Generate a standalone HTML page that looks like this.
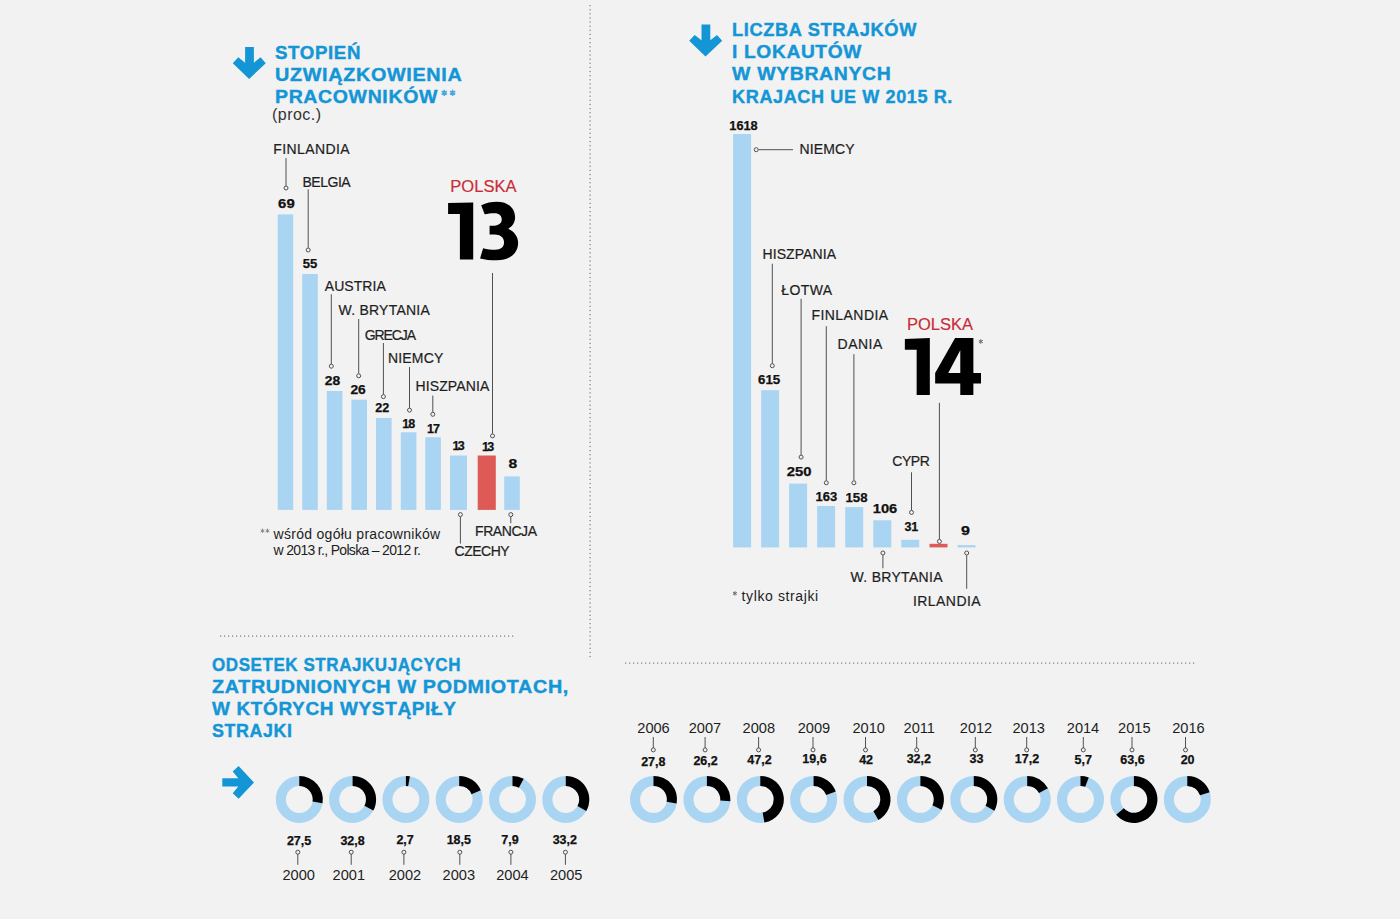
<!DOCTYPE html>
<html><head><meta charset="utf-8"><style>
html,body{margin:0;padding:0;background:#f2f2f2;width:1400px;height:919px;overflow:hidden}
svg{display:block;font-family:"Liberation Sans",sans-serif}
</style></head><body>
<svg width="1400" height="919" viewBox="0 0 1400 919">
<rect width="1400" height="919" fill="#f2f2f2"/>
<rect x="589.5" y="5.0" width="1.2" height="1.2" fill="#7a7a7a"/>
<rect x="589.5" y="9.12" width="1.2" height="1.2" fill="#7a7a7a"/>
<rect x="589.5" y="13.24" width="1.2" height="1.2" fill="#7a7a7a"/>
<rect x="589.5" y="17.36" width="1.2" height="1.2" fill="#7a7a7a"/>
<rect x="589.5" y="21.48" width="1.2" height="1.2" fill="#7a7a7a"/>
<rect x="589.5" y="25.6" width="1.2" height="1.2" fill="#7a7a7a"/>
<rect x="589.5" y="29.72" width="1.2" height="1.2" fill="#7a7a7a"/>
<rect x="589.5" y="33.84" width="1.2" height="1.2" fill="#7a7a7a"/>
<rect x="589.5" y="37.96" width="1.2" height="1.2" fill="#7a7a7a"/>
<rect x="589.5" y="42.08" width="1.2" height="1.2" fill="#7a7a7a"/>
<rect x="589.5" y="46.2" width="1.2" height="1.2" fill="#7a7a7a"/>
<rect x="589.5" y="50.32" width="1.2" height="1.2" fill="#7a7a7a"/>
<rect x="589.5" y="54.44" width="1.2" height="1.2" fill="#7a7a7a"/>
<rect x="589.5" y="58.56" width="1.2" height="1.2" fill="#7a7a7a"/>
<rect x="589.5" y="62.68" width="1.2" height="1.2" fill="#7a7a7a"/>
<rect x="589.5" y="66.8" width="1.2" height="1.2" fill="#7a7a7a"/>
<rect x="589.5" y="70.92" width="1.2" height="1.2" fill="#7a7a7a"/>
<rect x="589.5" y="75.04" width="1.2" height="1.2" fill="#7a7a7a"/>
<rect x="589.5" y="79.16" width="1.2" height="1.2" fill="#7a7a7a"/>
<rect x="589.5" y="83.28" width="1.2" height="1.2" fill="#7a7a7a"/>
<rect x="589.5" y="87.4" width="1.2" height="1.2" fill="#7a7a7a"/>
<rect x="589.5" y="91.52" width="1.2" height="1.2" fill="#7a7a7a"/>
<rect x="589.5" y="95.64" width="1.2" height="1.2" fill="#7a7a7a"/>
<rect x="589.5" y="99.76" width="1.2" height="1.2" fill="#7a7a7a"/>
<rect x="589.5" y="103.88" width="1.2" height="1.2" fill="#7a7a7a"/>
<rect x="589.5" y="108.0" width="1.2" height="1.2" fill="#7a7a7a"/>
<rect x="589.5" y="112.12" width="1.2" height="1.2" fill="#7a7a7a"/>
<rect x="589.5" y="116.24" width="1.2" height="1.2" fill="#7a7a7a"/>
<rect x="589.5" y="120.36" width="1.2" height="1.2" fill="#7a7a7a"/>
<rect x="589.5" y="124.48" width="1.2" height="1.2" fill="#7a7a7a"/>
<rect x="589.5" y="128.6" width="1.2" height="1.2" fill="#7a7a7a"/>
<rect x="589.5" y="132.72" width="1.2" height="1.2" fill="#7a7a7a"/>
<rect x="589.5" y="136.84" width="1.2" height="1.2" fill="#7a7a7a"/>
<rect x="589.5" y="140.96" width="1.2" height="1.2" fill="#7a7a7a"/>
<rect x="589.5" y="145.08" width="1.2" height="1.2" fill="#7a7a7a"/>
<rect x="589.5" y="149.2" width="1.2" height="1.2" fill="#7a7a7a"/>
<rect x="589.5" y="153.32" width="1.2" height="1.2" fill="#7a7a7a"/>
<rect x="589.5" y="157.44" width="1.2" height="1.2" fill="#7a7a7a"/>
<rect x="589.5" y="161.56" width="1.2" height="1.2" fill="#7a7a7a"/>
<rect x="589.5" y="165.68" width="1.2" height="1.2" fill="#7a7a7a"/>
<rect x="589.5" y="169.8" width="1.2" height="1.2" fill="#7a7a7a"/>
<rect x="589.5" y="173.92" width="1.2" height="1.2" fill="#7a7a7a"/>
<rect x="589.5" y="178.04" width="1.2" height="1.2" fill="#7a7a7a"/>
<rect x="589.5" y="182.16" width="1.2" height="1.2" fill="#7a7a7a"/>
<rect x="589.5" y="186.28" width="1.2" height="1.2" fill="#7a7a7a"/>
<rect x="589.5" y="190.4" width="1.2" height="1.2" fill="#7a7a7a"/>
<rect x="589.5" y="194.52" width="1.2" height="1.2" fill="#7a7a7a"/>
<rect x="589.5" y="198.64" width="1.2" height="1.2" fill="#7a7a7a"/>
<rect x="589.5" y="202.76" width="1.2" height="1.2" fill="#7a7a7a"/>
<rect x="589.5" y="206.88" width="1.2" height="1.2" fill="#7a7a7a"/>
<rect x="589.5" y="211.0" width="1.2" height="1.2" fill="#7a7a7a"/>
<rect x="589.5" y="215.12" width="1.2" height="1.2" fill="#7a7a7a"/>
<rect x="589.5" y="219.24" width="1.2" height="1.2" fill="#7a7a7a"/>
<rect x="589.5" y="223.36" width="1.2" height="1.2" fill="#7a7a7a"/>
<rect x="589.5" y="227.48" width="1.2" height="1.2" fill="#7a7a7a"/>
<rect x="589.5" y="231.6" width="1.2" height="1.2" fill="#7a7a7a"/>
<rect x="589.5" y="235.72" width="1.2" height="1.2" fill="#7a7a7a"/>
<rect x="589.5" y="239.84" width="1.2" height="1.2" fill="#7a7a7a"/>
<rect x="589.5" y="243.96" width="1.2" height="1.2" fill="#7a7a7a"/>
<rect x="589.5" y="248.08" width="1.2" height="1.2" fill="#7a7a7a"/>
<rect x="589.5" y="252.2" width="1.2" height="1.2" fill="#7a7a7a"/>
<rect x="589.5" y="256.32" width="1.2" height="1.2" fill="#7a7a7a"/>
<rect x="589.5" y="260.44" width="1.2" height="1.2" fill="#7a7a7a"/>
<rect x="589.5" y="264.56" width="1.2" height="1.2" fill="#7a7a7a"/>
<rect x="589.5" y="268.68" width="1.2" height="1.2" fill="#7a7a7a"/>
<rect x="589.5" y="272.8" width="1.2" height="1.2" fill="#7a7a7a"/>
<rect x="589.5" y="276.92" width="1.2" height="1.2" fill="#7a7a7a"/>
<rect x="589.5" y="281.04" width="1.2" height="1.2" fill="#7a7a7a"/>
<rect x="589.5" y="285.16" width="1.2" height="1.2" fill="#7a7a7a"/>
<rect x="589.5" y="289.28" width="1.2" height="1.2" fill="#7a7a7a"/>
<rect x="589.5" y="293.4" width="1.2" height="1.2" fill="#7a7a7a"/>
<rect x="589.5" y="297.52" width="1.2" height="1.2" fill="#7a7a7a"/>
<rect x="589.5" y="301.64" width="1.2" height="1.2" fill="#7a7a7a"/>
<rect x="589.5" y="305.76" width="1.2" height="1.2" fill="#7a7a7a"/>
<rect x="589.5" y="309.88" width="1.2" height="1.2" fill="#7a7a7a"/>
<rect x="589.5" y="314.0" width="1.2" height="1.2" fill="#7a7a7a"/>
<rect x="589.5" y="318.12" width="1.2" height="1.2" fill="#7a7a7a"/>
<rect x="589.5" y="322.24" width="1.2" height="1.2" fill="#7a7a7a"/>
<rect x="589.5" y="326.36" width="1.2" height="1.2" fill="#7a7a7a"/>
<rect x="589.5" y="330.48" width="1.2" height="1.2" fill="#7a7a7a"/>
<rect x="589.5" y="334.6" width="1.2" height="1.2" fill="#7a7a7a"/>
<rect x="589.5" y="338.72" width="1.2" height="1.2" fill="#7a7a7a"/>
<rect x="589.5" y="342.84" width="1.2" height="1.2" fill="#7a7a7a"/>
<rect x="589.5" y="346.96" width="1.2" height="1.2" fill="#7a7a7a"/>
<rect x="589.5" y="351.08" width="1.2" height="1.2" fill="#7a7a7a"/>
<rect x="589.5" y="355.2" width="1.2" height="1.2" fill="#7a7a7a"/>
<rect x="589.5" y="359.32" width="1.2" height="1.2" fill="#7a7a7a"/>
<rect x="589.5" y="363.44" width="1.2" height="1.2" fill="#7a7a7a"/>
<rect x="589.5" y="367.56" width="1.2" height="1.2" fill="#7a7a7a"/>
<rect x="589.5" y="371.68" width="1.2" height="1.2" fill="#7a7a7a"/>
<rect x="589.5" y="375.8" width="1.2" height="1.2" fill="#7a7a7a"/>
<rect x="589.5" y="379.92" width="1.2" height="1.2" fill="#7a7a7a"/>
<rect x="589.5" y="384.04" width="1.2" height="1.2" fill="#7a7a7a"/>
<rect x="589.5" y="388.16" width="1.2" height="1.2" fill="#7a7a7a"/>
<rect x="589.5" y="392.28" width="1.2" height="1.2" fill="#7a7a7a"/>
<rect x="589.5" y="396.4" width="1.2" height="1.2" fill="#7a7a7a"/>
<rect x="589.5" y="400.52" width="1.2" height="1.2" fill="#7a7a7a"/>
<rect x="589.5" y="404.64" width="1.2" height="1.2" fill="#7a7a7a"/>
<rect x="589.5" y="408.76" width="1.2" height="1.2" fill="#7a7a7a"/>
<rect x="589.5" y="412.88" width="1.2" height="1.2" fill="#7a7a7a"/>
<rect x="589.5" y="417.0" width="1.2" height="1.2" fill="#7a7a7a"/>
<rect x="589.5" y="421.12" width="1.2" height="1.2" fill="#7a7a7a"/>
<rect x="589.5" y="425.24" width="1.2" height="1.2" fill="#7a7a7a"/>
<rect x="589.5" y="429.36" width="1.2" height="1.2" fill="#7a7a7a"/>
<rect x="589.5" y="433.48" width="1.2" height="1.2" fill="#7a7a7a"/>
<rect x="589.5" y="437.6" width="1.2" height="1.2" fill="#7a7a7a"/>
<rect x="589.5" y="441.72" width="1.2" height="1.2" fill="#7a7a7a"/>
<rect x="589.5" y="445.84" width="1.2" height="1.2" fill="#7a7a7a"/>
<rect x="589.5" y="449.96" width="1.2" height="1.2" fill="#7a7a7a"/>
<rect x="589.5" y="454.08" width="1.2" height="1.2" fill="#7a7a7a"/>
<rect x="589.5" y="458.2" width="1.2" height="1.2" fill="#7a7a7a"/>
<rect x="589.5" y="462.32" width="1.2" height="1.2" fill="#7a7a7a"/>
<rect x="589.5" y="466.44" width="1.2" height="1.2" fill="#7a7a7a"/>
<rect x="589.5" y="470.56" width="1.2" height="1.2" fill="#7a7a7a"/>
<rect x="589.5" y="474.68" width="1.2" height="1.2" fill="#7a7a7a"/>
<rect x="589.5" y="478.8" width="1.2" height="1.2" fill="#7a7a7a"/>
<rect x="589.5" y="482.92" width="1.2" height="1.2" fill="#7a7a7a"/>
<rect x="589.5" y="487.04" width="1.2" height="1.2" fill="#7a7a7a"/>
<rect x="589.5" y="491.16" width="1.2" height="1.2" fill="#7a7a7a"/>
<rect x="589.5" y="495.28" width="1.2" height="1.2" fill="#7a7a7a"/>
<rect x="589.5" y="499.4" width="1.2" height="1.2" fill="#7a7a7a"/>
<rect x="589.5" y="503.52" width="1.2" height="1.2" fill="#7a7a7a"/>
<rect x="589.5" y="507.64" width="1.2" height="1.2" fill="#7a7a7a"/>
<rect x="589.5" y="511.76" width="1.2" height="1.2" fill="#7a7a7a"/>
<rect x="589.5" y="515.88" width="1.2" height="1.2" fill="#7a7a7a"/>
<rect x="589.5" y="520.0" width="1.2" height="1.2" fill="#7a7a7a"/>
<rect x="589.5" y="524.12" width="1.2" height="1.2" fill="#7a7a7a"/>
<rect x="589.5" y="528.24" width="1.2" height="1.2" fill="#7a7a7a"/>
<rect x="589.5" y="532.36" width="1.2" height="1.2" fill="#7a7a7a"/>
<rect x="589.5" y="536.48" width="1.2" height="1.2" fill="#7a7a7a"/>
<rect x="589.5" y="540.6" width="1.2" height="1.2" fill="#7a7a7a"/>
<rect x="589.5" y="544.72" width="1.2" height="1.2" fill="#7a7a7a"/>
<rect x="589.5" y="548.84" width="1.2" height="1.2" fill="#7a7a7a"/>
<rect x="589.5" y="552.96" width="1.2" height="1.2" fill="#7a7a7a"/>
<rect x="589.5" y="557.08" width="1.2" height="1.2" fill="#7a7a7a"/>
<rect x="589.5" y="561.2" width="1.2" height="1.2" fill="#7a7a7a"/>
<rect x="589.5" y="565.32" width="1.2" height="1.2" fill="#7a7a7a"/>
<rect x="589.5" y="569.44" width="1.2" height="1.2" fill="#7a7a7a"/>
<rect x="589.5" y="573.56" width="1.2" height="1.2" fill="#7a7a7a"/>
<rect x="589.5" y="577.68" width="1.2" height="1.2" fill="#7a7a7a"/>
<rect x="589.5" y="581.8" width="1.2" height="1.2" fill="#7a7a7a"/>
<rect x="589.5" y="585.92" width="1.2" height="1.2" fill="#7a7a7a"/>
<rect x="589.5" y="590.04" width="1.2" height="1.2" fill="#7a7a7a"/>
<rect x="589.5" y="594.16" width="1.2" height="1.2" fill="#7a7a7a"/>
<rect x="589.5" y="598.28" width="1.2" height="1.2" fill="#7a7a7a"/>
<rect x="589.5" y="602.4" width="1.2" height="1.2" fill="#7a7a7a"/>
<rect x="589.5" y="606.52" width="1.2" height="1.2" fill="#7a7a7a"/>
<rect x="589.5" y="610.64" width="1.2" height="1.2" fill="#7a7a7a"/>
<rect x="589.5" y="614.76" width="1.2" height="1.2" fill="#7a7a7a"/>
<rect x="589.5" y="618.88" width="1.2" height="1.2" fill="#7a7a7a"/>
<rect x="589.5" y="623.0" width="1.2" height="1.2" fill="#7a7a7a"/>
<rect x="589.5" y="627.12" width="1.2" height="1.2" fill="#7a7a7a"/>
<rect x="589.5" y="631.24" width="1.2" height="1.2" fill="#7a7a7a"/>
<rect x="589.5" y="635.36" width="1.2" height="1.2" fill="#7a7a7a"/>
<rect x="589.5" y="639.48" width="1.2" height="1.2" fill="#7a7a7a"/>
<rect x="589.5" y="643.6" width="1.2" height="1.2" fill="#7a7a7a"/>
<rect x="589.5" y="647.72" width="1.2" height="1.2" fill="#7a7a7a"/>
<rect x="589.5" y="651.84" width="1.2" height="1.2" fill="#7a7a7a"/>
<rect x="589.5" y="655.96" width="1.2" height="1.2" fill="#7a7a7a"/>
<rect x="220" y="635.5" width="1.2" height="1.2" fill="#7a7a7a"/>
<rect x="224" y="635.5" width="1.2" height="1.2" fill="#7a7a7a"/>
<rect x="228" y="635.5" width="1.2" height="1.2" fill="#7a7a7a"/>
<rect x="232" y="635.5" width="1.2" height="1.2" fill="#7a7a7a"/>
<rect x="236" y="635.5" width="1.2" height="1.2" fill="#7a7a7a"/>
<rect x="240" y="635.5" width="1.2" height="1.2" fill="#7a7a7a"/>
<rect x="244" y="635.5" width="1.2" height="1.2" fill="#7a7a7a"/>
<rect x="248" y="635.5" width="1.2" height="1.2" fill="#7a7a7a"/>
<rect x="252" y="635.5" width="1.2" height="1.2" fill="#7a7a7a"/>
<rect x="256" y="635.5" width="1.2" height="1.2" fill="#7a7a7a"/>
<rect x="260" y="635.5" width="1.2" height="1.2" fill="#7a7a7a"/>
<rect x="264" y="635.5" width="1.2" height="1.2" fill="#7a7a7a"/>
<rect x="268" y="635.5" width="1.2" height="1.2" fill="#7a7a7a"/>
<rect x="272" y="635.5" width="1.2" height="1.2" fill="#7a7a7a"/>
<rect x="276" y="635.5" width="1.2" height="1.2" fill="#7a7a7a"/>
<rect x="280" y="635.5" width="1.2" height="1.2" fill="#7a7a7a"/>
<rect x="284" y="635.5" width="1.2" height="1.2" fill="#7a7a7a"/>
<rect x="288" y="635.5" width="1.2" height="1.2" fill="#7a7a7a"/>
<rect x="292" y="635.5" width="1.2" height="1.2" fill="#7a7a7a"/>
<rect x="296" y="635.5" width="1.2" height="1.2" fill="#7a7a7a"/>
<rect x="300" y="635.5" width="1.2" height="1.2" fill="#7a7a7a"/>
<rect x="304" y="635.5" width="1.2" height="1.2" fill="#7a7a7a"/>
<rect x="308" y="635.5" width="1.2" height="1.2" fill="#7a7a7a"/>
<rect x="312" y="635.5" width="1.2" height="1.2" fill="#7a7a7a"/>
<rect x="316" y="635.5" width="1.2" height="1.2" fill="#7a7a7a"/>
<rect x="320" y="635.5" width="1.2" height="1.2" fill="#7a7a7a"/>
<rect x="324" y="635.5" width="1.2" height="1.2" fill="#7a7a7a"/>
<rect x="328" y="635.5" width="1.2" height="1.2" fill="#7a7a7a"/>
<rect x="332" y="635.5" width="1.2" height="1.2" fill="#7a7a7a"/>
<rect x="336" y="635.5" width="1.2" height="1.2" fill="#7a7a7a"/>
<rect x="340" y="635.5" width="1.2" height="1.2" fill="#7a7a7a"/>
<rect x="344" y="635.5" width="1.2" height="1.2" fill="#7a7a7a"/>
<rect x="348" y="635.5" width="1.2" height="1.2" fill="#7a7a7a"/>
<rect x="352" y="635.5" width="1.2" height="1.2" fill="#7a7a7a"/>
<rect x="356" y="635.5" width="1.2" height="1.2" fill="#7a7a7a"/>
<rect x="360" y="635.5" width="1.2" height="1.2" fill="#7a7a7a"/>
<rect x="364" y="635.5" width="1.2" height="1.2" fill="#7a7a7a"/>
<rect x="368" y="635.5" width="1.2" height="1.2" fill="#7a7a7a"/>
<rect x="372" y="635.5" width="1.2" height="1.2" fill="#7a7a7a"/>
<rect x="376" y="635.5" width="1.2" height="1.2" fill="#7a7a7a"/>
<rect x="380" y="635.5" width="1.2" height="1.2" fill="#7a7a7a"/>
<rect x="384" y="635.5" width="1.2" height="1.2" fill="#7a7a7a"/>
<rect x="388" y="635.5" width="1.2" height="1.2" fill="#7a7a7a"/>
<rect x="392" y="635.5" width="1.2" height="1.2" fill="#7a7a7a"/>
<rect x="396" y="635.5" width="1.2" height="1.2" fill="#7a7a7a"/>
<rect x="400" y="635.5" width="1.2" height="1.2" fill="#7a7a7a"/>
<rect x="404" y="635.5" width="1.2" height="1.2" fill="#7a7a7a"/>
<rect x="408" y="635.5" width="1.2" height="1.2" fill="#7a7a7a"/>
<rect x="412" y="635.5" width="1.2" height="1.2" fill="#7a7a7a"/>
<rect x="416" y="635.5" width="1.2" height="1.2" fill="#7a7a7a"/>
<rect x="420" y="635.5" width="1.2" height="1.2" fill="#7a7a7a"/>
<rect x="424" y="635.5" width="1.2" height="1.2" fill="#7a7a7a"/>
<rect x="428" y="635.5" width="1.2" height="1.2" fill="#7a7a7a"/>
<rect x="432" y="635.5" width="1.2" height="1.2" fill="#7a7a7a"/>
<rect x="436" y="635.5" width="1.2" height="1.2" fill="#7a7a7a"/>
<rect x="440" y="635.5" width="1.2" height="1.2" fill="#7a7a7a"/>
<rect x="444" y="635.5" width="1.2" height="1.2" fill="#7a7a7a"/>
<rect x="448" y="635.5" width="1.2" height="1.2" fill="#7a7a7a"/>
<rect x="452" y="635.5" width="1.2" height="1.2" fill="#7a7a7a"/>
<rect x="456" y="635.5" width="1.2" height="1.2" fill="#7a7a7a"/>
<rect x="460" y="635.5" width="1.2" height="1.2" fill="#7a7a7a"/>
<rect x="464" y="635.5" width="1.2" height="1.2" fill="#7a7a7a"/>
<rect x="468" y="635.5" width="1.2" height="1.2" fill="#7a7a7a"/>
<rect x="472" y="635.5" width="1.2" height="1.2" fill="#7a7a7a"/>
<rect x="476" y="635.5" width="1.2" height="1.2" fill="#7a7a7a"/>
<rect x="480" y="635.5" width="1.2" height="1.2" fill="#7a7a7a"/>
<rect x="484" y="635.5" width="1.2" height="1.2" fill="#7a7a7a"/>
<rect x="488" y="635.5" width="1.2" height="1.2" fill="#7a7a7a"/>
<rect x="492" y="635.5" width="1.2" height="1.2" fill="#7a7a7a"/>
<rect x="496" y="635.5" width="1.2" height="1.2" fill="#7a7a7a"/>
<rect x="500" y="635.5" width="1.2" height="1.2" fill="#7a7a7a"/>
<rect x="504" y="635.5" width="1.2" height="1.2" fill="#7a7a7a"/>
<rect x="508" y="635.5" width="1.2" height="1.2" fill="#7a7a7a"/>
<rect x="512" y="635.5" width="1.2" height="1.2" fill="#7a7a7a"/>
<rect x="625" y="662.5" width="1.2" height="1.2" fill="#7a7a7a"/>
<rect x="629" y="662.5" width="1.2" height="1.2" fill="#7a7a7a"/>
<rect x="633" y="662.5" width="1.2" height="1.2" fill="#7a7a7a"/>
<rect x="637" y="662.5" width="1.2" height="1.2" fill="#7a7a7a"/>
<rect x="641" y="662.5" width="1.2" height="1.2" fill="#7a7a7a"/>
<rect x="645" y="662.5" width="1.2" height="1.2" fill="#7a7a7a"/>
<rect x="649" y="662.5" width="1.2" height="1.2" fill="#7a7a7a"/>
<rect x="653" y="662.5" width="1.2" height="1.2" fill="#7a7a7a"/>
<rect x="657" y="662.5" width="1.2" height="1.2" fill="#7a7a7a"/>
<rect x="661" y="662.5" width="1.2" height="1.2" fill="#7a7a7a"/>
<rect x="665" y="662.5" width="1.2" height="1.2" fill="#7a7a7a"/>
<rect x="669" y="662.5" width="1.2" height="1.2" fill="#7a7a7a"/>
<rect x="673" y="662.5" width="1.2" height="1.2" fill="#7a7a7a"/>
<rect x="677" y="662.5" width="1.2" height="1.2" fill="#7a7a7a"/>
<rect x="681" y="662.5" width="1.2" height="1.2" fill="#7a7a7a"/>
<rect x="685" y="662.5" width="1.2" height="1.2" fill="#7a7a7a"/>
<rect x="689" y="662.5" width="1.2" height="1.2" fill="#7a7a7a"/>
<rect x="693" y="662.5" width="1.2" height="1.2" fill="#7a7a7a"/>
<rect x="697" y="662.5" width="1.2" height="1.2" fill="#7a7a7a"/>
<rect x="701" y="662.5" width="1.2" height="1.2" fill="#7a7a7a"/>
<rect x="705" y="662.5" width="1.2" height="1.2" fill="#7a7a7a"/>
<rect x="709" y="662.5" width="1.2" height="1.2" fill="#7a7a7a"/>
<rect x="713" y="662.5" width="1.2" height="1.2" fill="#7a7a7a"/>
<rect x="717" y="662.5" width="1.2" height="1.2" fill="#7a7a7a"/>
<rect x="721" y="662.5" width="1.2" height="1.2" fill="#7a7a7a"/>
<rect x="725" y="662.5" width="1.2" height="1.2" fill="#7a7a7a"/>
<rect x="729" y="662.5" width="1.2" height="1.2" fill="#7a7a7a"/>
<rect x="733" y="662.5" width="1.2" height="1.2" fill="#7a7a7a"/>
<rect x="737" y="662.5" width="1.2" height="1.2" fill="#7a7a7a"/>
<rect x="741" y="662.5" width="1.2" height="1.2" fill="#7a7a7a"/>
<rect x="745" y="662.5" width="1.2" height="1.2" fill="#7a7a7a"/>
<rect x="749" y="662.5" width="1.2" height="1.2" fill="#7a7a7a"/>
<rect x="753" y="662.5" width="1.2" height="1.2" fill="#7a7a7a"/>
<rect x="757" y="662.5" width="1.2" height="1.2" fill="#7a7a7a"/>
<rect x="761" y="662.5" width="1.2" height="1.2" fill="#7a7a7a"/>
<rect x="765" y="662.5" width="1.2" height="1.2" fill="#7a7a7a"/>
<rect x="769" y="662.5" width="1.2" height="1.2" fill="#7a7a7a"/>
<rect x="773" y="662.5" width="1.2" height="1.2" fill="#7a7a7a"/>
<rect x="777" y="662.5" width="1.2" height="1.2" fill="#7a7a7a"/>
<rect x="781" y="662.5" width="1.2" height="1.2" fill="#7a7a7a"/>
<rect x="785" y="662.5" width="1.2" height="1.2" fill="#7a7a7a"/>
<rect x="789" y="662.5" width="1.2" height="1.2" fill="#7a7a7a"/>
<rect x="793" y="662.5" width="1.2" height="1.2" fill="#7a7a7a"/>
<rect x="797" y="662.5" width="1.2" height="1.2" fill="#7a7a7a"/>
<rect x="801" y="662.5" width="1.2" height="1.2" fill="#7a7a7a"/>
<rect x="805" y="662.5" width="1.2" height="1.2" fill="#7a7a7a"/>
<rect x="809" y="662.5" width="1.2" height="1.2" fill="#7a7a7a"/>
<rect x="813" y="662.5" width="1.2" height="1.2" fill="#7a7a7a"/>
<rect x="817" y="662.5" width="1.2" height="1.2" fill="#7a7a7a"/>
<rect x="821" y="662.5" width="1.2" height="1.2" fill="#7a7a7a"/>
<rect x="825" y="662.5" width="1.2" height="1.2" fill="#7a7a7a"/>
<rect x="829" y="662.5" width="1.2" height="1.2" fill="#7a7a7a"/>
<rect x="833" y="662.5" width="1.2" height="1.2" fill="#7a7a7a"/>
<rect x="837" y="662.5" width="1.2" height="1.2" fill="#7a7a7a"/>
<rect x="841" y="662.5" width="1.2" height="1.2" fill="#7a7a7a"/>
<rect x="845" y="662.5" width="1.2" height="1.2" fill="#7a7a7a"/>
<rect x="849" y="662.5" width="1.2" height="1.2" fill="#7a7a7a"/>
<rect x="853" y="662.5" width="1.2" height="1.2" fill="#7a7a7a"/>
<rect x="857" y="662.5" width="1.2" height="1.2" fill="#7a7a7a"/>
<rect x="861" y="662.5" width="1.2" height="1.2" fill="#7a7a7a"/>
<rect x="865" y="662.5" width="1.2" height="1.2" fill="#7a7a7a"/>
<rect x="869" y="662.5" width="1.2" height="1.2" fill="#7a7a7a"/>
<rect x="873" y="662.5" width="1.2" height="1.2" fill="#7a7a7a"/>
<rect x="877" y="662.5" width="1.2" height="1.2" fill="#7a7a7a"/>
<rect x="881" y="662.5" width="1.2" height="1.2" fill="#7a7a7a"/>
<rect x="885" y="662.5" width="1.2" height="1.2" fill="#7a7a7a"/>
<rect x="889" y="662.5" width="1.2" height="1.2" fill="#7a7a7a"/>
<rect x="893" y="662.5" width="1.2" height="1.2" fill="#7a7a7a"/>
<rect x="897" y="662.5" width="1.2" height="1.2" fill="#7a7a7a"/>
<rect x="901" y="662.5" width="1.2" height="1.2" fill="#7a7a7a"/>
<rect x="905" y="662.5" width="1.2" height="1.2" fill="#7a7a7a"/>
<rect x="909" y="662.5" width="1.2" height="1.2" fill="#7a7a7a"/>
<rect x="913" y="662.5" width="1.2" height="1.2" fill="#7a7a7a"/>
<rect x="917" y="662.5" width="1.2" height="1.2" fill="#7a7a7a"/>
<rect x="921" y="662.5" width="1.2" height="1.2" fill="#7a7a7a"/>
<rect x="925" y="662.5" width="1.2" height="1.2" fill="#7a7a7a"/>
<rect x="929" y="662.5" width="1.2" height="1.2" fill="#7a7a7a"/>
<rect x="933" y="662.5" width="1.2" height="1.2" fill="#7a7a7a"/>
<rect x="937" y="662.5" width="1.2" height="1.2" fill="#7a7a7a"/>
<rect x="941" y="662.5" width="1.2" height="1.2" fill="#7a7a7a"/>
<rect x="945" y="662.5" width="1.2" height="1.2" fill="#7a7a7a"/>
<rect x="949" y="662.5" width="1.2" height="1.2" fill="#7a7a7a"/>
<rect x="953" y="662.5" width="1.2" height="1.2" fill="#7a7a7a"/>
<rect x="957" y="662.5" width="1.2" height="1.2" fill="#7a7a7a"/>
<rect x="961" y="662.5" width="1.2" height="1.2" fill="#7a7a7a"/>
<rect x="965" y="662.5" width="1.2" height="1.2" fill="#7a7a7a"/>
<rect x="969" y="662.5" width="1.2" height="1.2" fill="#7a7a7a"/>
<rect x="973" y="662.5" width="1.2" height="1.2" fill="#7a7a7a"/>
<rect x="977" y="662.5" width="1.2" height="1.2" fill="#7a7a7a"/>
<rect x="981" y="662.5" width="1.2" height="1.2" fill="#7a7a7a"/>
<rect x="985" y="662.5" width="1.2" height="1.2" fill="#7a7a7a"/>
<rect x="989" y="662.5" width="1.2" height="1.2" fill="#7a7a7a"/>
<rect x="993" y="662.5" width="1.2" height="1.2" fill="#7a7a7a"/>
<rect x="997" y="662.5" width="1.2" height="1.2" fill="#7a7a7a"/>
<rect x="1001" y="662.5" width="1.2" height="1.2" fill="#7a7a7a"/>
<rect x="1005" y="662.5" width="1.2" height="1.2" fill="#7a7a7a"/>
<rect x="1009" y="662.5" width="1.2" height="1.2" fill="#7a7a7a"/>
<rect x="1013" y="662.5" width="1.2" height="1.2" fill="#7a7a7a"/>
<rect x="1017" y="662.5" width="1.2" height="1.2" fill="#7a7a7a"/>
<rect x="1021" y="662.5" width="1.2" height="1.2" fill="#7a7a7a"/>
<rect x="1025" y="662.5" width="1.2" height="1.2" fill="#7a7a7a"/>
<rect x="1029" y="662.5" width="1.2" height="1.2" fill="#7a7a7a"/>
<rect x="1033" y="662.5" width="1.2" height="1.2" fill="#7a7a7a"/>
<rect x="1037" y="662.5" width="1.2" height="1.2" fill="#7a7a7a"/>
<rect x="1041" y="662.5" width="1.2" height="1.2" fill="#7a7a7a"/>
<rect x="1045" y="662.5" width="1.2" height="1.2" fill="#7a7a7a"/>
<rect x="1049" y="662.5" width="1.2" height="1.2" fill="#7a7a7a"/>
<rect x="1053" y="662.5" width="1.2" height="1.2" fill="#7a7a7a"/>
<rect x="1057" y="662.5" width="1.2" height="1.2" fill="#7a7a7a"/>
<rect x="1061" y="662.5" width="1.2" height="1.2" fill="#7a7a7a"/>
<rect x="1065" y="662.5" width="1.2" height="1.2" fill="#7a7a7a"/>
<rect x="1069" y="662.5" width="1.2" height="1.2" fill="#7a7a7a"/>
<rect x="1073" y="662.5" width="1.2" height="1.2" fill="#7a7a7a"/>
<rect x="1077" y="662.5" width="1.2" height="1.2" fill="#7a7a7a"/>
<rect x="1081" y="662.5" width="1.2" height="1.2" fill="#7a7a7a"/>
<rect x="1085" y="662.5" width="1.2" height="1.2" fill="#7a7a7a"/>
<rect x="1089" y="662.5" width="1.2" height="1.2" fill="#7a7a7a"/>
<rect x="1093" y="662.5" width="1.2" height="1.2" fill="#7a7a7a"/>
<rect x="1097" y="662.5" width="1.2" height="1.2" fill="#7a7a7a"/>
<rect x="1101" y="662.5" width="1.2" height="1.2" fill="#7a7a7a"/>
<rect x="1105" y="662.5" width="1.2" height="1.2" fill="#7a7a7a"/>
<rect x="1109" y="662.5" width="1.2" height="1.2" fill="#7a7a7a"/>
<rect x="1113" y="662.5" width="1.2" height="1.2" fill="#7a7a7a"/>
<rect x="1117" y="662.5" width="1.2" height="1.2" fill="#7a7a7a"/>
<rect x="1121" y="662.5" width="1.2" height="1.2" fill="#7a7a7a"/>
<rect x="1125" y="662.5" width="1.2" height="1.2" fill="#7a7a7a"/>
<rect x="1129" y="662.5" width="1.2" height="1.2" fill="#7a7a7a"/>
<rect x="1133" y="662.5" width="1.2" height="1.2" fill="#7a7a7a"/>
<rect x="1137" y="662.5" width="1.2" height="1.2" fill="#7a7a7a"/>
<rect x="1141" y="662.5" width="1.2" height="1.2" fill="#7a7a7a"/>
<rect x="1145" y="662.5" width="1.2" height="1.2" fill="#7a7a7a"/>
<rect x="1149" y="662.5" width="1.2" height="1.2" fill="#7a7a7a"/>
<rect x="1153" y="662.5" width="1.2" height="1.2" fill="#7a7a7a"/>
<rect x="1157" y="662.5" width="1.2" height="1.2" fill="#7a7a7a"/>
<rect x="1161" y="662.5" width="1.2" height="1.2" fill="#7a7a7a"/>
<rect x="1165" y="662.5" width="1.2" height="1.2" fill="#7a7a7a"/>
<rect x="1169" y="662.5" width="1.2" height="1.2" fill="#7a7a7a"/>
<rect x="1173" y="662.5" width="1.2" height="1.2" fill="#7a7a7a"/>
<rect x="1177" y="662.5" width="1.2" height="1.2" fill="#7a7a7a"/>
<rect x="1181" y="662.5" width="1.2" height="1.2" fill="#7a7a7a"/>
<rect x="1185" y="662.5" width="1.2" height="1.2" fill="#7a7a7a"/>
<rect x="1189" y="662.5" width="1.2" height="1.2" fill="#7a7a7a"/>
<rect x="1193" y="662.5" width="1.2" height="1.2" fill="#7a7a7a"/>
<polygon points="245.1,46.9 253.9,46.9 253.9,62.7 260.6,57.3 265.8,63.2 249.1,79.0 232.8,63.2 238.3,57.3 245.1,62.7" fill="#1496d6"/>
<polygon points="701.5,24.5 710.3,24.5 710.3,40.3 717.0,34.9 722.2,40.8 705.5,56.6 689.2,40.8 694.7,34.9 701.5,40.3" fill="#1496d6"/>
<polygon points="222.3,778.2 238.3,778.2 232.7,771.6 238.6,766.0 254.0,782.4 238.6,798.8 232.7,793.2 238.3,786.6 222.3,786.6" fill="#1496d6"/>
<text x="275.0" y="58.8" font-size="18" font-weight="700" fill="#1496d6" stroke="#1496d6" stroke-width="0.4" textLength="86.0" lengthAdjust="spacingAndGlyphs" letter-spacing="0.6">STOPIEŃ</text>
<text x="275.0" y="80.5" font-size="18" font-weight="700" fill="#1496d6" stroke="#1496d6" stroke-width="0.4" textLength="187.4" lengthAdjust="spacingAndGlyphs" letter-spacing="0.6">UZWIĄZKOWIENIA</text>
<text x="275.0" y="102.7" font-size="18" font-weight="700" fill="#1496d6" stroke="#1496d6" stroke-width="0.4" textLength="163.0" lengthAdjust="spacingAndGlyphs" letter-spacing="0.6">PRACOWNIKÓW</text>
<path d="M444.30,89.70L444.30,95.90M441.62,91.25L446.98,94.35M446.98,91.25L441.62,94.35" stroke="#4aa9df" stroke-width="1.5" fill="none"/>
<path d="M452.60,89.70L452.60,95.90M449.92,91.25L455.28,94.35M455.28,91.25L449.92,94.35" stroke="#4aa9df" stroke-width="1.5" fill="none"/>
<text x="272" y="119.5" font-size="16" fill="#333" textLength="49" lengthAdjust="spacing">(proc.)</text>
<text x="732.1" y="36.3" font-size="18" font-weight="700" fill="#1496d6" stroke="#1496d6" stroke-width="0.4" textLength="184.9" lengthAdjust="spacingAndGlyphs" letter-spacing="0.6">LICZBA STRAJKÓW</text>
<text x="732.1" y="58.2" font-size="18" font-weight="700" fill="#1496d6" stroke="#1496d6" stroke-width="0.4" textLength="129.9" lengthAdjust="spacingAndGlyphs" letter-spacing="0.6">I LOKAUTÓW</text>
<text x="732.1" y="80.3" font-size="18" font-weight="700" fill="#1496d6" stroke="#1496d6" stroke-width="0.4" textLength="159.4" lengthAdjust="spacingAndGlyphs" letter-spacing="0.6">W WYBRANYCH</text>
<text x="732.1" y="102.6" font-size="18" font-weight="700" fill="#1496d6" stroke="#1496d6" stroke-width="0.4" textLength="220.9" lengthAdjust="spacingAndGlyphs" letter-spacing="0.6">KRAJACH UE W 2015 R.</text>
<text x="212.0" y="670.8" font-size="18" font-weight="700" fill="#1496d6" stroke="#1496d6" stroke-width="0.4" textLength="249.0" lengthAdjust="spacingAndGlyphs" letter-spacing="0.6">ODSETEK STRAJKUJĄCYCH</text>
<text x="212.0" y="692.8" font-size="18" font-weight="700" fill="#1496d6" stroke="#1496d6" stroke-width="0.4" textLength="357.0" lengthAdjust="spacingAndGlyphs" letter-spacing="0.6">ZATRUDNIONYCH W PODMIOTACH,</text>
<text x="212.0" y="714.9" font-size="18" font-weight="700" fill="#1496d6" stroke="#1496d6" stroke-width="0.4" textLength="244.5" lengthAdjust="spacingAndGlyphs" letter-spacing="0.6">W KTÓRYCH WYSTĄPIŁY</text>
<text x="212.0" y="736.6" font-size="18" font-weight="700" fill="#1496d6" stroke="#1496d6" stroke-width="0.4" textLength="80.5" lengthAdjust="spacingAndGlyphs" letter-spacing="0.6">STRAJKI</text>
<rect x="277.7" y="214.4" width="15.5" height="295.5" fill="#a9d5f3"/>
<text x="286.4" y="208.4" font-size="12.5" font-weight="700" fill="#111" stroke="#111" stroke-width="0.25" text-anchor="middle" textLength="16.6" lengthAdjust="spacingAndGlyphs">69</text>
<rect x="302.2" y="274.0" width="15.6" height="235.89999999999998" fill="#a9d5f3"/>
<text x="310.1" y="268.0" font-size="12.5" font-weight="700" fill="#111" stroke="#111" stroke-width="0.25" text-anchor="middle" textLength="14.5" lengthAdjust="spacingAndGlyphs">55</text>
<rect x="326.8" y="391.0" width="15.6" height="118.89999999999998" fill="#a9d5f3"/>
<text x="332.5" y="384.7" font-size="12.5" font-weight="700" fill="#111" stroke="#111" stroke-width="0.25" text-anchor="middle" textLength="15.4" lengthAdjust="spacingAndGlyphs">28</text>
<rect x="351.4" y="399.7" width="15.6" height="110.19999999999999" fill="#a9d5f3"/>
<text x="358.1" y="393.6" font-size="12.5" font-weight="700" fill="#111" stroke="#111" stroke-width="0.25" text-anchor="middle" textLength="15.4" lengthAdjust="spacingAndGlyphs">26</text>
<rect x="376.0" y="418.0" width="15.6" height="91.89999999999998" fill="#a9d5f3"/>
<text x="382.3" y="411.9" font-size="12.5" font-weight="700" fill="#111" stroke="#111" stroke-width="0.25" text-anchor="middle" textLength="14.0" lengthAdjust="spacingAndGlyphs">22</text>
<rect x="400.8" y="432.3" width="15.6" height="77.59999999999997" fill="#a9d5f3"/>
<text x="408.7" y="428.2" font-size="12.5" font-weight="700" fill="#111" stroke="#111" stroke-width="0.25" text-anchor="middle" textLength="12.8" lengthAdjust="spacing">18</text>
<rect x="425.3" y="437.2" width="15.6" height="72.69999999999999" fill="#a9d5f3"/>
<text x="433.5" y="433.0" font-size="12.5" font-weight="700" fill="#111" stroke="#111" stroke-width="0.25" text-anchor="middle" textLength="13.0" lengthAdjust="spacing">17</text>
<rect x="450.0" y="455.5" width="17.0" height="54.39999999999998" fill="#a9d5f3"/>
<text x="458.5" y="450.0" font-size="12.5" font-weight="700" fill="#111" stroke="#111" stroke-width="0.25" text-anchor="middle" textLength="12.2" lengthAdjust="spacing">13</text>
<rect x="477.7" y="455.5" width="18.1" height="54.39999999999998" fill="#dd5a56"/>
<text x="488.1" y="451.0" font-size="12.5" font-weight="700" fill="#111" stroke="#111" stroke-width="0.25" text-anchor="middle" textLength="12.4" lengthAdjust="spacing">13</text>
<rect x="504.2" y="476.4" width="15.6" height="33.5" fill="#a9d5f3"/>
<text x="512.8" y="467.7" font-size="12.5" font-weight="700" fill="#111" stroke="#111" stroke-width="0.25" text-anchor="middle" textLength="8.7" lengthAdjust="spacingAndGlyphs">8</text>
<text x="273.2" y="153.7" font-size="14" fill="#1e1e1e" stroke="#1e1e1e" stroke-width="0.2" textLength="76.4" lengthAdjust="spacing">FINLANDIA</text>
<text x="302.5" y="187.0" font-size="14" fill="#1e1e1e" stroke="#1e1e1e" stroke-width="0.2" textLength="48.2" lengthAdjust="spacing">BELGIA</text>
<text x="324.8" y="290.9" font-size="14" fill="#1e1e1e" stroke="#1e1e1e" stroke-width="0.2" textLength="61.0" lengthAdjust="spacing">AUSTRIA</text>
<text x="338.5" y="315.4" font-size="14" fill="#1e1e1e" stroke="#1e1e1e" stroke-width="0.2" textLength="91.3" lengthAdjust="spacing">W. BRYTANIA</text>
<text x="364.8" y="339.6" font-size="14" fill="#1e1e1e" stroke="#1e1e1e" stroke-width="0.2" textLength="51.2" lengthAdjust="spacing">GRECJA</text>
<text x="388.0" y="363.2" font-size="14" fill="#1e1e1e" stroke="#1e1e1e" stroke-width="0.2" textLength="55.3" lengthAdjust="spacing">NIEMCY</text>
<text x="415.5" y="391.3" font-size="14" fill="#1e1e1e" stroke="#1e1e1e" stroke-width="0.2" textLength="73.8" lengthAdjust="spacing">HISZPANIA</text>
<text x="475.0" y="535.8" font-size="14" fill="#1e1e1e" stroke="#1e1e1e" stroke-width="0.2" textLength="62.0" lengthAdjust="spacing">FRANCJA</text>
<text x="454.6" y="555.8" font-size="14" fill="#1e1e1e" stroke="#1e1e1e" stroke-width="0.2" textLength="55.0" lengthAdjust="spacing">CZECHY</text>
<text x="450.3" y="191.9" font-size="16.5" fill="#c92c36" stroke="#c92c36" stroke-width="0.2" textLength="66.2" lengthAdjust="spacing">POLSKA</text>
<line x1="286" y1="158" x2="286" y2="185.8" stroke="#505050" stroke-width="1"/>
<circle cx="286" cy="188" r="2.0" fill="#f2f2f2" stroke="#505050" stroke-width="1"/>
<line x1="308.2" y1="189.4" x2="308.2" y2="247.8" stroke="#505050" stroke-width="1"/>
<circle cx="308.2" cy="250" r="2.0" fill="#f2f2f2" stroke="#505050" stroke-width="1"/>
<line x1="331.3" y1="294.2" x2="331.3" y2="364.0" stroke="#505050" stroke-width="1"/>
<circle cx="331.3" cy="366.2" r="2.0" fill="#f2f2f2" stroke="#505050" stroke-width="1"/>
<line x1="358.7" y1="319" x2="358.7" y2="373.6" stroke="#505050" stroke-width="1"/>
<circle cx="358.7" cy="375.8" r="2.0" fill="#f2f2f2" stroke="#505050" stroke-width="1"/>
<line x1="383.4" y1="343" x2="383.4" y2="394.40000000000003" stroke="#505050" stroke-width="1"/>
<circle cx="383.4" cy="396.6" r="2.0" fill="#f2f2f2" stroke="#505050" stroke-width="1"/>
<line x1="409.5" y1="367" x2="409.5" y2="407.90000000000003" stroke="#505050" stroke-width="1"/>
<circle cx="409.5" cy="410.1" r="2.0" fill="#f2f2f2" stroke="#505050" stroke-width="1"/>
<line x1="432.8" y1="395.6" x2="432.8" y2="412.1" stroke="#505050" stroke-width="1"/>
<circle cx="432.8" cy="414.3" r="2.0" fill="#f2f2f2" stroke="#505050" stroke-width="1"/>
<line x1="492.5" y1="273" x2="492.5" y2="433.7" stroke="#505050" stroke-width="1"/>
<circle cx="492.5" cy="435.9" r="2.0" fill="#f2f2f2" stroke="#505050" stroke-width="1"/>
<circle cx="460.4" cy="514.6" r="2.0" fill="#f2f2f2" stroke="#505050" stroke-width="1"/>
<line x1="460.4" y1="516.8000000000001" x2="460.4" y2="543.6" stroke="#505050" stroke-width="1"/>
<circle cx="510.8" cy="514.6" r="2.0" fill="#f2f2f2" stroke="#505050" stroke-width="1"/>
<line x1="510.8" y1="516.8000000000001" x2="510.8" y2="523.2" stroke="#505050" stroke-width="1"/>
<path d="M262.50,528.70L262.50,532.90M260.68,529.75L264.32,531.85M264.32,529.75L260.68,531.85" stroke="#8a8a8a" stroke-width="1.0" fill="none"/>
<path d="M267.50,528.70L267.50,532.90M265.68,529.75L269.32,531.85M269.32,529.75L265.68,531.85" stroke="#8a8a8a" stroke-width="1.0" fill="none"/>
<text x="273.6" y="539" font-size="14" fill="#1e1e1e" textLength="166.5" lengthAdjust="spacing">wśród ogółu pracowników</text>
<text x="273.6" y="555.4" font-size="14" fill="#1e1e1e" textLength="147.2" lengthAdjust="spacing">w 2013 r., Polska – 2012 r.</text>
<g transform="translate(442,196) scale(0.07614)" fill="#000"><path d="M80,92 L410,85 L410,835 L235,835 L235,235 L80,235 Z"/><path d="M515,120 C580,90 650,75 720,75 C870,75 960,160 960,280 C960,350 920,405 870,430 C950,465 1000,540 1000,615 C1000,760 880,845 720,845 C640,845 560,835 500,820 L540,685 C590,698 650,705 700,705 C775,705 815,665 815,610 C815,545 770,505 690,505 L625,505 L625,390 L690,390 C745,390 785,355 785,310 C785,260 750,225 690,225 C640,225 600,232 560,240 Z"/></g>
<rect x="733.1" y="134.0" width="18" height="413.4" fill="#a9d5f3"/>
<rect x="761.1" y="390.2" width="18" height="157.2" fill="#a9d5f3"/>
<rect x="789.1" y="483.6" width="18" height="63.799999999999955" fill="#a9d5f3"/>
<rect x="817.1" y="506.0" width="18" height="41.39999999999998" fill="#a9d5f3"/>
<rect x="845.2" y="507.1" width="18" height="40.299999999999955" fill="#a9d5f3"/>
<rect x="873.3" y="520.3" width="18" height="27.100000000000023" fill="#a9d5f3"/>
<rect x="901.2" y="539.8" width="18" height="7.600000000000023" fill="#a9d5f3"/>
<rect x="929.5" y="543.8" width="18" height="3.6000000000000227" fill="#dd5a56"/>
<rect x="957.6" y="545.1" width="18" height="2.2999999999999545" fill="#a9d5f3"/>
<text x="743.5" y="130.4" font-size="12.5" font-weight="700" fill="#111" stroke="#111" stroke-width="0.25" text-anchor="middle" textLength="28.4" lengthAdjust="spacingAndGlyphs">1618</text>
<text x="769.1" y="384.4" font-size="12.5" font-weight="700" fill="#111" stroke="#111" stroke-width="0.25" text-anchor="middle" textLength="22.2" lengthAdjust="spacingAndGlyphs">615</text>
<text x="799.2" y="475.6" font-size="12.5" font-weight="700" fill="#111" stroke="#111" stroke-width="0.25" text-anchor="middle" textLength="24.7" lengthAdjust="spacingAndGlyphs">250</text>
<text x="826.3" y="500.7" font-size="12.5" font-weight="700" fill="#111" stroke="#111" stroke-width="0.25" text-anchor="middle" textLength="21.7" lengthAdjust="spacingAndGlyphs">163</text>
<text x="856.5" y="501.7" font-size="12.5" font-weight="700" fill="#111" stroke="#111" stroke-width="0.25" text-anchor="middle" textLength="22.0" lengthAdjust="spacingAndGlyphs">158</text>
<text x="885" y="512.8" font-size="12.5" font-weight="700" fill="#111" stroke="#111" stroke-width="0.25" text-anchor="middle" textLength="24.5" lengthAdjust="spacingAndGlyphs">106</text>
<text x="911.4" y="531" font-size="12.5" font-weight="700" fill="#111" stroke="#111" stroke-width="0.25" text-anchor="middle" textLength="13.8" lengthAdjust="spacing">31</text>
<text x="965.4" y="534.6" font-size="12.5" font-weight="700" fill="#111" stroke="#111" stroke-width="0.25" text-anchor="middle" textLength="8.9" lengthAdjust="spacingAndGlyphs">9</text>
<text x="799.6" y="153.7" font-size="14" fill="#1e1e1e" stroke="#1e1e1e" stroke-width="0.2" textLength="54.9" lengthAdjust="spacing">NIEMCY</text>
<text x="762.5" y="258.8" font-size="14" fill="#1e1e1e" stroke="#1e1e1e" stroke-width="0.2" textLength="73.5" lengthAdjust="spacing">HISZPANIA</text>
<text x="781.3" y="294.7" font-size="14" fill="#1e1e1e" stroke="#1e1e1e" stroke-width="0.2" textLength="50.9" lengthAdjust="spacing">ŁOTWA</text>
<text x="811.4" y="320.0" font-size="14" fill="#1e1e1e" stroke="#1e1e1e" stroke-width="0.2" textLength="76.8" lengthAdjust="spacing">FINLANDIA</text>
<text x="837.6" y="348.5" font-size="14" fill="#1e1e1e" stroke="#1e1e1e" stroke-width="0.2" textLength="44.7" lengthAdjust="spacing">DANIA</text>
<text x="892.3" y="466.0" font-size="14" fill="#1e1e1e" stroke="#1e1e1e" stroke-width="0.2" textLength="37.5" lengthAdjust="spacing">CYPR</text>
<text x="850.6" y="582.0" font-size="14" fill="#1e1e1e" stroke="#1e1e1e" stroke-width="0.2" textLength="91.9" lengthAdjust="spacing">W. BRYTANIA</text>
<text x="912.9" y="605.5" font-size="14" fill="#1e1e1e" stroke="#1e1e1e" stroke-width="0.2" textLength="67.8" lengthAdjust="spacing">IRLANDIA</text>
<text x="907.0" y="330.2" font-size="16.5" fill="#c92c36" stroke="#c92c36" stroke-width="0.2" textLength="65.9" lengthAdjust="spacing">POLSKA</text>
<g transform="translate(898,332) scale(0.07614)" fill="#000"><path d="M90,92 L418,80 L418,828 L245,828 L245,232 L90,232 Z"/><path fill-rule="evenodd" d="M750,80 L990,80 L990,540 L1090,540 L1090,675 L990,675 L990,828 L818,828 L818,675 L488,675 L488,540 Z M660,540 L818,540 L818,240 Z"/></g>
<path d="M980.80,339.20L980.80,343.80M978.81,340.35L982.79,342.65M982.79,340.35L978.81,342.65" stroke="#666" stroke-width="1.0" fill="none"/>
<line x1="758.4" y1="149.7" x2="793" y2="149.7" stroke="#505050" stroke-width="1"/>
<circle cx="756.2" cy="149.7" r="2.0" fill="#f2f2f2" stroke="#505050" stroke-width="1"/>
<line x1="772.3" y1="263.7" x2="772.3" y2="363.5" stroke="#505050" stroke-width="1"/>
<circle cx="772.3" cy="365.7" r="2.0" fill="#f2f2f2" stroke="#505050" stroke-width="1"/>
<line x1="801.1" y1="298.8" x2="801.1" y2="454.90000000000003" stroke="#505050" stroke-width="1"/>
<circle cx="801.1" cy="457.1" r="2.0" fill="#f2f2f2" stroke="#505050" stroke-width="1"/>
<line x1="826.3" y1="326.2" x2="826.3" y2="480.6" stroke="#505050" stroke-width="1"/>
<circle cx="826.3" cy="482.8" r="2.0" fill="#f2f2f2" stroke="#505050" stroke-width="1"/>
<line x1="853.9" y1="354.2" x2="853.9" y2="480.6" stroke="#505050" stroke-width="1"/>
<circle cx="853.9" cy="482.8" r="2.0" fill="#f2f2f2" stroke="#505050" stroke-width="1"/>
<line x1="939.4" y1="402.8" x2="939.4" y2="539.1999999999999" stroke="#505050" stroke-width="1"/>
<circle cx="939.4" cy="541.4" r="2.0" fill="#f2f2f2" stroke="#505050" stroke-width="1"/>
<line x1="911.5" y1="472.3" x2="911.5" y2="510.2" stroke="#505050" stroke-width="1"/>
<circle cx="911.5" cy="512.4" r="2.0" fill="#f2f2f2" stroke="#505050" stroke-width="1"/>
<circle cx="882.9" cy="553" r="2.0" fill="#f2f2f2" stroke="#505050" stroke-width="1"/>
<line x1="882.9" y1="555.2" x2="882.9" y2="568.3" stroke="#505050" stroke-width="1"/>
<circle cx="966.7" cy="553" r="2.0" fill="#f2f2f2" stroke="#505050" stroke-width="1"/>
<line x1="966.7" y1="555.2" x2="966.7" y2="588.8" stroke="#505050" stroke-width="1"/>
<path d="M734.90,591.20L734.90,595.60M732.99,592.30L736.81,594.50M736.81,592.30L732.99,594.50" stroke="#666" stroke-width="1.0" fill="none"/>
<text x="741.6" y="600.5" font-size="14" fill="#1e1e1e" textLength="76.5" lengthAdjust="spacing">tylko strajki</text>
<circle cx="299.3" cy="799.5" r="18.45" fill="none" stroke="#a9d5f3" stroke-width="10.1"/>
<path d="M299.30,776.00 A23.5,23.5 0 0 1 322.51,803.18 L312.54,801.60 A13.4,13.4 0 0 0 299.30,786.10 Z" fill="#000"/>
<text x="299.1" y="845.3" font-size="12.5" font-weight="700" fill="#111" stroke="#111" stroke-width="0.25" text-anchor="middle">27,5</text>
<circle cx="297.8" cy="852.2" r="2.0" fill="#f2f2f2" stroke="#505050" stroke-width="1"/>
<line x1="297.8" y1="854.0" x2="297.8" y2="864.8" stroke="#505050" stroke-width="1"/>
<text x="298.7" y="879.5" font-size="14.6" fill="#1e1e1e" text-anchor="middle">2000</text>
<circle cx="352.6" cy="799.5" r="18.45" fill="none" stroke="#a9d5f3" stroke-width="10.1"/>
<path d="M352.60,776.00 A23.5,23.5 0 0 1 373.33,810.56 L364.42,805.81 A13.4,13.4 0 0 0 352.60,786.10 Z" fill="#000"/>
<text x="352.6" y="845.3" font-size="12.5" font-weight="700" fill="#111" stroke="#111" stroke-width="0.25" text-anchor="middle">32,8</text>
<circle cx="351.2" cy="852.2" r="2.0" fill="#f2f2f2" stroke="#505050" stroke-width="1"/>
<line x1="351.2" y1="854.0" x2="351.2" y2="864.8" stroke="#505050" stroke-width="1"/>
<text x="348.8" y="879.5" font-size="14.6" fill="#1e1e1e" text-anchor="middle">2001</text>
<circle cx="405.9" cy="799.5" r="18.45" fill="none" stroke="#a9d5f3" stroke-width="10.1"/>
<path d="M405.90,776.00 A23.5,23.5 0 0 1 409.87,776.34 L408.16,786.29 A13.4,13.4 0 0 0 405.90,786.10 Z" fill="#000"/>
<text x="405.1" y="844.2" font-size="12.5" font-weight="700" fill="#111" stroke="#111" stroke-width="0.25" text-anchor="middle">2,7</text>
<circle cx="403.9" cy="852.2" r="2.0" fill="#f2f2f2" stroke="#505050" stroke-width="1"/>
<line x1="403.9" y1="854.0" x2="403.9" y2="864.8" stroke="#505050" stroke-width="1"/>
<text x="404.9" y="879.5" font-size="14.6" fill="#1e1e1e" text-anchor="middle">2002</text>
<circle cx="459.2" cy="799.5" r="18.45" fill="none" stroke="#a9d5f3" stroke-width="10.1"/>
<path d="M459.20,776.00 A23.5,23.5 0 0 1 480.77,790.17 L471.50,794.18 A13.4,13.4 0 0 0 459.20,786.10 Z" fill="#000"/>
<text x="458.8" y="844.2" font-size="12.5" font-weight="700" fill="#111" stroke="#111" stroke-width="0.25" text-anchor="middle">18,5</text>
<circle cx="459.8" cy="852.2" r="2.0" fill="#f2f2f2" stroke="#505050" stroke-width="1"/>
<line x1="459.8" y1="854.0" x2="459.8" y2="864.8" stroke="#505050" stroke-width="1"/>
<text x="458.8" y="879.5" font-size="14.6" fill="#1e1e1e" text-anchor="middle">2003</text>
<circle cx="512.5" cy="799.5" r="18.45" fill="none" stroke="#a9d5f3" stroke-width="10.1"/>
<path d="M512.50,776.00 A23.5,23.5 0 0 1 523.69,778.84 L518.88,787.72 A13.4,13.4 0 0 0 512.50,786.10 Z" fill="#000"/>
<text x="510.0" y="844.2" font-size="12.5" font-weight="700" fill="#111" stroke="#111" stroke-width="0.25" text-anchor="middle">7,9</text>
<circle cx="510.9" cy="852.2" r="2.0" fill="#f2f2f2" stroke="#505050" stroke-width="1"/>
<line x1="510.9" y1="854.0" x2="510.9" y2="864.8" stroke="#505050" stroke-width="1"/>
<text x="512.4" y="879.5" font-size="14.6" fill="#1e1e1e" text-anchor="middle">2004</text>
<circle cx="565.8" cy="799.5" r="18.45" fill="none" stroke="#a9d5f3" stroke-width="10.1"/>
<path d="M565.80,776.00 A23.5,23.5 0 0 1 586.25,811.08 L577.46,806.10 A13.4,13.4 0 0 0 565.80,786.10 Z" fill="#000"/>
<text x="564.8" y="843.5" font-size="12.5" font-weight="700" fill="#111" stroke="#111" stroke-width="0.25" text-anchor="middle">33,2</text>
<circle cx="565.4" cy="852.2" r="2.0" fill="#f2f2f2" stroke="#505050" stroke-width="1"/>
<line x1="565.4" y1="854.0" x2="565.4" y2="864.8" stroke="#505050" stroke-width="1"/>
<text x="566.2" y="879.5" font-size="14.6" fill="#1e1e1e" text-anchor="middle">2005</text>
<circle cx="653.5" cy="799.4" r="18.45" fill="none" stroke="#a9d5f3" stroke-width="10.1"/>
<path d="M653.50,775.90 A23.5,23.5 0 0 1 676.64,803.51 L666.69,801.75 A13.4,13.4 0 0 0 653.50,786.00 Z" fill="#000"/>
<text x="653.5" y="732.9" font-size="14.6" fill="#1e1e1e" text-anchor="middle">2006</text>
<line x1="653.3" y1="737.0" x2="653.3" y2="748.0" stroke="#505050" stroke-width="1"/>
<circle cx="653.3" cy="749.9" r="2.0" fill="#f2f2f2" stroke="#505050" stroke-width="1"/>
<text x="653.3" y="765.5" font-size="12.5" font-weight="700" fill="#111" stroke="#111" stroke-width="0.25" text-anchor="middle">27,8</text>
<circle cx="706.9" cy="799.4" r="18.45" fill="none" stroke="#a9d5f3" stroke-width="10.1"/>
<path d="M706.90,775.90 A23.5,23.5 0 0 1 730.33,801.17 L720.26,800.41 A13.4,13.4 0 0 0 706.90,786.00 Z" fill="#000"/>
<text x="704.9" y="732.9" font-size="14.6" fill="#1e1e1e" text-anchor="middle">2007</text>
<line x1="705.1" y1="737.0" x2="705.1" y2="748.0" stroke="#505050" stroke-width="1"/>
<circle cx="705.1" cy="749.9" r="2.0" fill="#f2f2f2" stroke="#505050" stroke-width="1"/>
<text x="705.6" y="764.6" font-size="12.5" font-weight="700" fill="#111" stroke="#111" stroke-width="0.25" text-anchor="middle">26,2</text>
<circle cx="760.3" cy="799.4" r="18.45" fill="none" stroke="#a9d5f3" stroke-width="10.1"/>
<path d="M760.30,775.90 A23.5,23.5 0 0 1 764.41,822.54 L762.65,812.59 A13.4,13.4 0 0 0 760.30,786.00 Z" fill="#000"/>
<text x="758.8" y="732.9" font-size="14.6" fill="#1e1e1e" text-anchor="middle">2008</text>
<line x1="758.6" y1="737.0" x2="758.6" y2="748.0" stroke="#505050" stroke-width="1"/>
<circle cx="758.6" cy="749.9" r="2.0" fill="#f2f2f2" stroke="#505050" stroke-width="1"/>
<text x="759.5" y="763.6" font-size="12.5" font-weight="700" fill="#111" stroke="#111" stroke-width="0.25" text-anchor="middle">47,2</text>
<circle cx="813.6" cy="799.4" r="18.45" fill="none" stroke="#a9d5f3" stroke-width="10.1"/>
<path d="M813.60,775.90 A23.5,23.5 0 0 1 835.76,791.58 L826.24,794.94 A13.4,13.4 0 0 0 813.60,786.00 Z" fill="#000"/>
<text x="813.9" y="732.9" font-size="14.6" fill="#1e1e1e" text-anchor="middle">2009</text>
<line x1="813.0" y1="737.0" x2="813.0" y2="748.0" stroke="#505050" stroke-width="1"/>
<circle cx="813.0" cy="749.9" r="2.0" fill="#f2f2f2" stroke="#505050" stroke-width="1"/>
<text x="814.5" y="762.5" font-size="12.5" font-weight="700" fill="#111" stroke="#111" stroke-width="0.25" text-anchor="middle">19,6</text>
<circle cx="867.0" cy="799.4" r="18.45" fill="none" stroke="#a9d5f3" stroke-width="10.1"/>
<path d="M867.00,775.90 A23.5,23.5 0 0 1 878.32,819.99 L873.46,811.14 A13.4,13.4 0 0 0 867.00,786.00 Z" fill="#000"/>
<text x="868.7" y="732.9" font-size="14.6" fill="#1e1e1e" text-anchor="middle">2010</text>
<line x1="865.5" y1="737.0" x2="865.5" y2="748.0" stroke="#505050" stroke-width="1"/>
<circle cx="865.5" cy="749.9" r="2.0" fill="#f2f2f2" stroke="#505050" stroke-width="1"/>
<text x="866.1" y="764.0" font-size="12.5" font-weight="700" fill="#111" stroke="#111" stroke-width="0.25" text-anchor="middle">42</text>
<circle cx="920.4" cy="799.4" r="18.45" fill="none" stroke="#a9d5f3" stroke-width="10.1"/>
<path d="M920.40,775.90 A23.5,23.5 0 0 1 941.54,809.67 L932.45,805.26 A13.4,13.4 0 0 0 920.40,786.00 Z" fill="#000"/>
<text x="919.3" y="732.9" font-size="14.6" fill="#1e1e1e" text-anchor="middle">2011</text>
<line x1="916.7" y1="737.0" x2="916.7" y2="748.0" stroke="#505050" stroke-width="1"/>
<circle cx="916.7" cy="749.9" r="2.0" fill="#f2f2f2" stroke="#505050" stroke-width="1"/>
<text x="918.8" y="763.3" font-size="12.5" font-weight="700" fill="#111" stroke="#111" stroke-width="0.25" text-anchor="middle">32,2</text>
<circle cx="973.8" cy="799.4" r="18.45" fill="none" stroke="#a9d5f3" stroke-width="10.1"/>
<path d="M973.80,775.90 A23.5,23.5 0 0 1 994.39,810.72 L985.54,805.86 A13.4,13.4 0 0 0 973.80,786.00 Z" fill="#000"/>
<text x="976.0" y="732.9" font-size="14.6" fill="#1e1e1e" text-anchor="middle">2012</text>
<line x1="975.3" y1="737.0" x2="975.3" y2="748.0" stroke="#505050" stroke-width="1"/>
<circle cx="975.3" cy="749.9" r="2.0" fill="#f2f2f2" stroke="#505050" stroke-width="1"/>
<text x="976.4" y="763.3" font-size="12.5" font-weight="700" fill="#111" stroke="#111" stroke-width="0.25" text-anchor="middle">33</text>
<circle cx="1027.2" cy="799.4" r="18.45" fill="none" stroke="#a9d5f3" stroke-width="10.1"/>
<path d="M1027.20,775.90 A23.5,23.5 0 0 1 1047.93,788.34 L1039.02,793.09 A13.4,13.4 0 0 0 1027.20,786.00 Z" fill="#000"/>
<text x="1028.7" y="732.9" font-size="14.6" fill="#1e1e1e" text-anchor="middle">2013</text>
<line x1="1026.7" y1="737.0" x2="1026.7" y2="748.0" stroke="#505050" stroke-width="1"/>
<circle cx="1026.7" cy="749.9" r="2.0" fill="#f2f2f2" stroke="#505050" stroke-width="1"/>
<text x="1027.0" y="763.3" font-size="12.5" font-weight="700" fill="#111" stroke="#111" stroke-width="0.25" text-anchor="middle">17,2</text>
<circle cx="1080.5" cy="799.4" r="18.45" fill="none" stroke="#a9d5f3" stroke-width="10.1"/>
<path d="M1080.50,775.90 A23.5,23.5 0 0 1 1088.74,777.39 L1085.20,786.85 A13.4,13.4 0 0 0 1080.50,786.00 Z" fill="#000"/>
<text x="1083.0" y="732.9" font-size="14.6" fill="#1e1e1e" text-anchor="middle">2014</text>
<line x1="1083.3" y1="737.0" x2="1083.3" y2="748.0" stroke="#505050" stroke-width="1"/>
<circle cx="1083.3" cy="749.9" r="2.0" fill="#f2f2f2" stroke="#505050" stroke-width="1"/>
<text x="1083.3" y="763.5" font-size="12.5" font-weight="700" fill="#111" stroke="#111" stroke-width="0.25" text-anchor="middle">5,7</text>
<circle cx="1133.9" cy="799.4" r="18.45" fill="none" stroke="#a9d5f3" stroke-width="10.1"/>
<path d="M1133.90,775.90 A23.5,23.5 0 1 1 1116.18,814.83 L1123.79,808.20 A13.4,13.4 0 1 0 1133.90,786.00 Z" fill="#000"/>
<text x="1134.3" y="732.9" font-size="14.6" fill="#1e1e1e" text-anchor="middle">2015</text>
<line x1="1132.0" y1="737.0" x2="1132.0" y2="748.0" stroke="#505050" stroke-width="1"/>
<circle cx="1132.0" cy="749.9" r="2.0" fill="#f2f2f2" stroke="#505050" stroke-width="1"/>
<text x="1132.5" y="763.8" font-size="12.5" font-weight="700" fill="#111" stroke="#111" stroke-width="0.25" text-anchor="middle">63,6</text>
<circle cx="1187.3" cy="799.4" r="18.45" fill="none" stroke="#a9d5f3" stroke-width="10.1"/>
<path d="M1187.30,775.90 A23.5,23.5 0 0 1 1209.65,792.14 L1200.04,795.26 A13.4,13.4 0 0 0 1187.30,786.00 Z" fill="#000"/>
<text x="1188.4" y="732.9" font-size="14.6" fill="#1e1e1e" text-anchor="middle">2016</text>
<line x1="1185.5" y1="737.0" x2="1185.5" y2="748.0" stroke="#505050" stroke-width="1"/>
<circle cx="1185.5" cy="749.9" r="2.0" fill="#f2f2f2" stroke="#505050" stroke-width="1"/>
<text x="1187.6" y="763.6" font-size="12.5" font-weight="700" fill="#111" stroke="#111" stroke-width="0.25" text-anchor="middle">20</text>
</svg>
</body></html>
